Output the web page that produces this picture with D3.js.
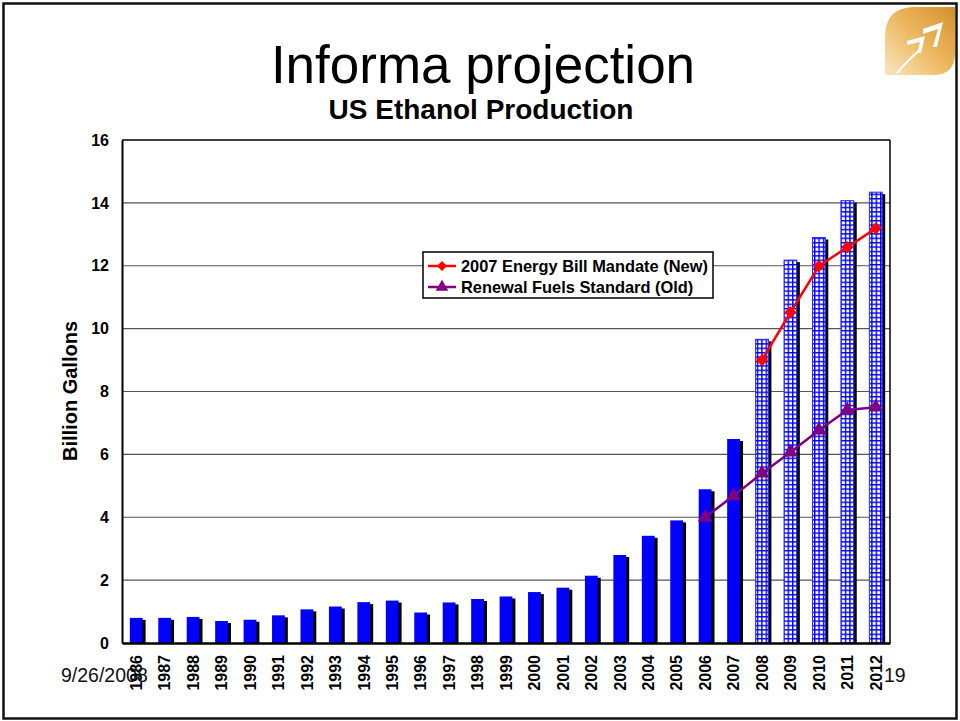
<!DOCTYPE html>
<html>
<head>
<meta charset="utf-8">
<script src="https://cdn.jsdelivr.net/npm/d3@7"></script>
<style>
  html, body { margin: 0; padding: 0; background: #fff; }
  svg { display: block; font-family: "Liberation Sans", Arial, sans-serif; }
</style>
</head>
<body>
<svg id="chart" width="960" height="721"></svg>
<script>
// ---------------- data ----------------
const years = ["1986","1987","1988","1989","1990","1991","1992","1993","1994","1995","1996","1997","1998","1999","2000","2001","2002","2003","2004","2005","2006","2007","2008","2009","2010","2011","2012"];
const production = [0.80,0.80,0.83,0.70,0.74,0.88,1.07,1.16,1.30,1.35,0.97,1.29,1.40,1.48,1.62,1.76,2.14,2.80,3.41,3.90,4.89,6.49,9.66,12.18,12.90,14.07,14.34];
const projectedYears = ["2008","2009","2010","2011","2012"];
const mandateYears = ["2008","2009","2010","2011","2012"];
const mandateValues = [9.0,10.52,11.99,12.59,13.19];
const rfsYears = ["2006","2007","2008","2009","2010","2011","2012"];
const rfsValues = [4.0,4.68,5.4,6.07,6.77,7.41,7.5];
const yTicks = [0,2,4,6,8,10,12,14,16];
const seriesNames = ["2007 Energy Bill Mandate (New)", "Renewal Fuels Standard (Old)"];
const titleText = "Informa projection";
const subtitleText = "US Ethanol Production";
const yAxisTitle = "Billion Gallons";
const dateText = "9/26/2008";
const pageText = "19";

// ---------------- setup ----------------
const svg = d3.select("#chart");
const plot = {left: 122, right: 890, top: 140, bottom: 643};

const defs = svg.append("defs");
const pat = defs.append("pattern").attr("id","grid").attr("patternUnits","userSpaceOnUse")
  .attr("width",4.4).attr("height",4.4);
pat.append("rect").attr("width",4.4).attr("height",4.4).attr("fill","#fff");
pat.append("rect").attr("x",0).attr("y",0).attr("width",4.4).attr("height",1.4).attr("fill","#0000ff");
pat.append("rect").attr("x",0).attr("y",0).attr("width",1.4).attr("height",4.4).attr("fill","#0000ff");

const lg = defs.append("linearGradient").attr("id","gold").attr("x1","0").attr("y1","1").attr("x2","1").attr("y2","0");
lg.append("stop").attr("offset","0").attr("stop-color","#fbe6c0");
lg.append("stop").attr("offset","0.5").attr("stop-color","#ecb860");
lg.append("stop").attr("offset","1").attr("stop-color","#d58f2c");

// slide frame
svg.append("rect").attr("x",3.5).attr("y",3.5).attr("width",953).attr("height",715)
  .attr("fill","none").attr("stroke","#111").attr("stroke-width",2.5);

// logo
const logo = svg.append("g").attr("transform","translate(885,7)");
logo.append("path")
  .attr("d","M30,0 L70,0 L70,46 Q70,68 48,68 L0,68 L0,30 Q0,0 30,0 Z")
  .attr("fill","url(#gold)");
logo.append("path").attr("d","M12,66 Q26,50 36,42").attr("stroke","#fff").attr("stroke-width",2.2).attr("fill","none");
logo.append("path").attr("d","M22,34 L40,29 L36,46 L32,46 L35,35 L22,38 Z").attr("fill","#fff");
logo.append("path").attr("d","M38,22 L58,15 L52,40 L48,40 L53,22 L38,27 Z").attr("fill","#fff");

// titles
svg.append("text").attr("x",483).attr("y",83).attr("text-anchor","middle")
  .attr("font-size",53).attr("fill","#000").text(titleText);
svg.append("text").attr("x",481).attr("y",119).attr("text-anchor","middle")
  .attr("font-size",28).attr("font-weight","bold").attr("fill","#000").text(subtitleText);

// scales
const x = d3.scaleBand().domain(years).range([plot.left, plot.right]).paddingInner(0.55).paddingOuter(0.275);
const y = d3.scaleLinear().domain([0,16]).range([plot.bottom, plot.top]);
const cx = d => x(d) + x.bandwidth()/2;

// gridlines
svg.append("g").selectAll("line").data(yTicks.filter(t => t > 0)).join("line")
  .attr("x1",plot.left).attr("x2",plot.right)
  .attr("y1",d => y(d)).attr("y2",d => y(d))
  .attr("stroke",d => d === 16 ? "#000" : "#555").attr("stroke-width",d => d === 16 ? 1.3 : 1.2);
svg.append("line").attr("x1",plot.right).attr("x2",plot.right).attr("y1",plot.top).attr("y2",plot.bottom)
  .attr("stroke","#000").attr("stroke-width",1.5);

// bars
const data = years.map((yr,i) => ({year: yr, value: production[i], proj: projectedYears.includes(yr)}));
const bars = svg.append("g");
bars.selectAll("rect.shadow").data(data).join("rect").attr("class","shadow")
  .attr("x",d => x(d.year) + 3).attr("y",d => y(d.value) + 2)
  .attr("width",x.bandwidth()).attr("height",d => plot.bottom - y(d.value) - 2)
  .attr("fill","#000");
bars.selectAll("rect.bar").data(data).join("rect").attr("class","bar")
  .attr("x",d => x(d.year)).attr("y",d => y(d.value))
  .attr("width",x.bandwidth()).attr("height",d => plot.bottom - y(d.value))
  .attr("fill",d => d.proj ? "url(#grid)" : "#0000ff")
  .attr("stroke",d => d.proj ? "#2a2aff" : "none").attr("stroke-width",1);

// axes
const yAxis = svg.append("g").attr("transform",`translate(${plot.left},0)`)
  .call(d3.axisLeft(y).tickValues(yTicks).tickSize(0).tickPadding(13));
yAxis.select(".domain").attr("stroke","#000").attr("stroke-width",2);
yAxis.selectAll("text").attr("font-size",16).attr("font-weight","bold").attr("fill","#000")
  .attr("font-family","'Liberation Sans', Arial, sans-serif");

const xAxis = svg.append("g").attr("transform",`translate(0,${plot.bottom})`)
  .call(d3.axisBottom(x).tickSize(0));
xAxis.select(".domain").attr("stroke","#000").attr("stroke-width",2.5);
xAxis.selectAll("text")
  .attr("font-size",16).attr("font-weight","bold").attr("fill","#000")
  .attr("font-family","'Liberation Sans', Arial, sans-serif")
  .attr("text-anchor","end").attr("transform","rotate(-90)")
  .attr("x",-12).attr("y",0).attr("dy","0.36em");

// y-axis title
svg.append("text").attr("transform","translate(77,391) rotate(-90)").attr("text-anchor","middle")
  .attr("font-size",20).attr("font-weight","bold").attr("fill","#000").text(yAxisTitle);

// lines
const lineGen = d3.line().x(d => cx(d[0])).y(d => y(d[1]));
const rfs = rfsYears.map((yr,i) => [yr, rfsValues[i]]);
const mandate = mandateYears.map((yr,i) => [yr, mandateValues[i]]);
const purple = "#800080", red = "#ff0000";
const triSym = d3.symbol().type(d3.symbolTriangle).size(95);
const diaSym = d3.symbol().type(d3.symbolSquare).size(75);

svg.append("path").datum(rfs).attr("d",lineGen).attr("fill","none").attr("stroke",purple).attr("stroke-width",2.5);
svg.append("g").selectAll("path").data(rfs).join("path")
  .attr("d",triSym).attr("transform",d => `translate(${cx(d[0])},${y(d[1])})`).attr("fill",purple);

svg.append("path").datum(mandate).attr("d",lineGen).attr("fill","none").attr("stroke",red).attr("stroke-width",2.5);
svg.append("g").selectAll("path").data(mandate).join("path")
  .attr("d",diaSym).attr("transform",d => `translate(${cx(d[0])},${y(d[1])}) rotate(45)`).attr("fill",red);

// legend
const leg = svg.append("g");
leg.append("rect").attr("x",423).attr("y",252).attr("width",290).attr("height",46)
  .attr("fill","#fff").attr("stroke","#000").attr("stroke-width",1.5);
const legItems = [
  {name: seriesNames[0], color: red, sym: d3.symbol().type(d3.symbolSquare).size(50), rot: 45, y: 266},
  {name: seriesNames[1], color: purple, sym: d3.symbol().type(d3.symbolTriangle).size(70), rot: 0, y: 287}
];
legItems.forEach(it => {
  leg.append("line").attr("x1",428).attr("x2",456).attr("y1",it.y).attr("y2",it.y)
    .attr("stroke",it.color).attr("stroke-width",2.5);
  leg.append("path").attr("d",it.sym).attr("transform",`translate(442,${it.y}) rotate(${it.rot})`).attr("fill",it.color);
  leg.append("text").attr("x",461).attr("y",it.y).attr("dy","0.36em")
    .attr("font-size",16.4).attr("font-weight","bold").attr("fill","#000").text(it.name);
});

// footer texts
svg.append("text").attr("x",61).attr("y",682).attr("font-size",19.5).attr("fill","#111").text(dateText);
svg.append("text").attr("x",884).attr("y",682).attr("font-size",19.5).attr("fill","#111").text(pageText);
</script>
</body>
</html>
